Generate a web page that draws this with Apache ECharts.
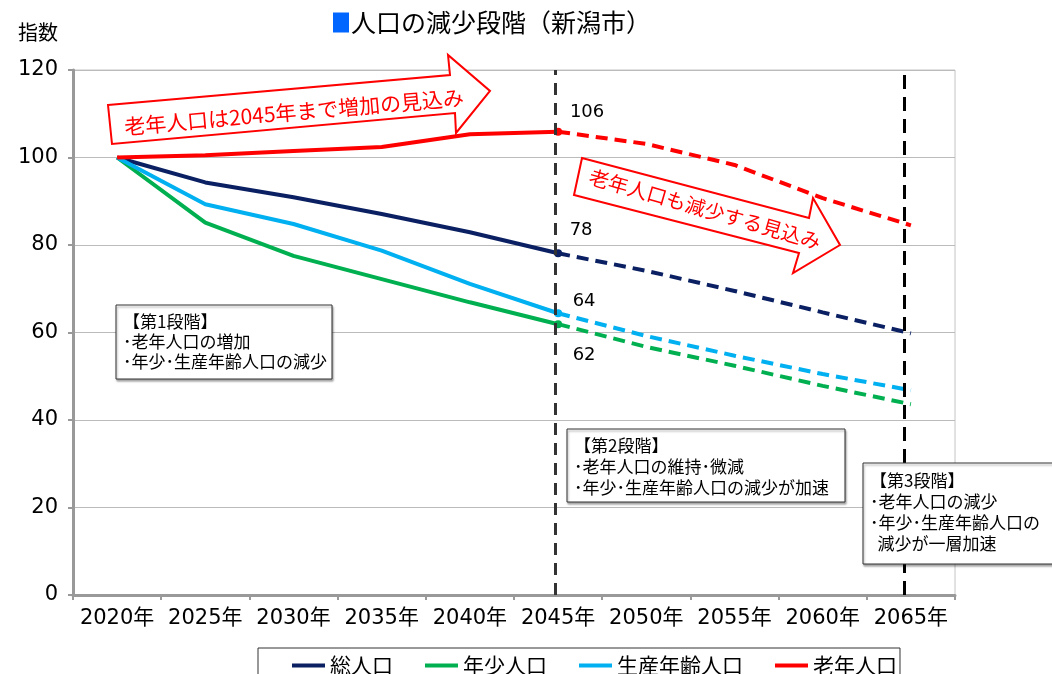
<!DOCTYPE html>
<html>
<head>
<meta charset="utf-8">
<script src="https://cdn.jsdelivr.net/npm/echarts@6/dist/echarts.min.js"></script>
<style>
html,body{margin:0;padding:0;background:#fff;}
#chart{width:1052px;height:674px;}
</style>
</head>
<body>
<div id="chart"></div>
<script>
// ---- data ----
const categories = ['2020年','2025年','2030年','2035年','2040年','2045年','2050年','2055年','2060年','2065年'];
const totalPop   = [100, 94.3, 90.9, 87.1, 82.9, 78.1, 74.1, 69.5, 64.6, 59.8];
const youthPop   = [100, 85.1, 77.5, 72.2, 66.9, 61.9, 56.7, 52.4, 47.8, 43.6];
const workingPop = [100, 89.3, 84.8, 78.7, 71.1, 64.4, 59.2, 54.7, 50.5, 46.8];
const elderlyPop = [100, 100.5, 101.5, 102.4, 105.3, 105.9, 103.1, 98.3, 90.7, 84.5];
const seriesNames = ['総人口','年少人口','生産年齢人口','老年人口'];
const yTicks = [0, 20, 40, 60, 80, 100, 120];
const splitCategory = '2045年';
// stage boundary lines, in category-index units
const stageLinePos = [4.97, 8.92];

const SPLIT = categories.indexOf(splitCategory);
const FONT_CJK = '"Noto Sans CJK JP", "Noto Sans", sans-serif';
const FONT_NUM = '"DejaVu Sans", "Noto Sans CJK JP", sans-serif';

const seriesStyles = [
  {color:'#0a2062', labelOffset:[23,-23]},
  {color:'#00b050', labelOffset:[26,31]},
  {color:'#00b0f0', labelOffset:[26,-12]},
  {color:'#ff0000', labelOffset:[29,-19]}
];
const allData = [totalPop, youthPop, workingPop, elderlyPop];

const solidSeries = allData.map((arr, k) => ({
  name: seriesNames[k],
  type: 'line',
  data: arr.map((v, i) => i <= SPLIT ? v : null),
  symbol: 'circle',
  symbolSize: (v, p) => p.dataIndex === SPLIT ? 8 : 0,
  showAllSymbol: true,
  itemStyle: {color: seriesStyles[k].color},
  lineStyle: {color: seriesStyles[k].color, width: 4},
  label: {
    show: true,
    position: 'inside',
    offset: seriesStyles[k].labelOffset,
    formatter: p => p.dataIndex === SPLIT ? String(Math.round(p.value)) : '',
    fontSize: 18, color: '#000', fontFamily: FONT_NUM
  },
  z: 3
}));
const dashedSeries = allData.map((arr, k) => ({
  name: seriesNames[k],
  type: 'line',
  data: arr.map((v, i) => i >= SPLIT ? v : null),
  symbol: 'none',
  itemStyle: {color: seriesStyles[k].color},
  lineStyle: {color: seriesStyles[k].color, width: 4, type: [12, 7]},
  z: 3
}));
const stageSeries = {
  name: 'stage',
  type: 'line',
  xAxisIndex: 1,
  data: [],
  z: 4,
  markLine: {
    silent: true,
    symbol: ['none','none'],
    label: {show: false},
    data: [
      {xAxis: stageLinePos[0], lineStyle: {color:'#333', width:3, type:[12,8]}},
      {xAxis: stageLinePos[1], lineStyle: {color:'#000', width:3, type:[14,8]}}
    ]
  }
};

function boxGraphic(x, y, w, h, lines, lh, tx, firstTop) {
  return {
    type: 'group',
    children: [
      {type:'rect', z: 20, shape:{x:x, y:y, width:w, height:h},
       style:{fill:'#fff', stroke:'#333', lineWidth:1, shadowBlur:2, shadowOffsetX:1, shadowOffsetY:2, shadowColor:'rgba(0,0,0,0.35)'}},
      {type:'text', z: 21, x: tx, y: firstTop,
       style:{text: lines.join('\n'), font: '17px ' + FONT_CJK, fill:'#000', lineHeight: lh, align:'left', verticalAlign:'top'}}
    ]
  };
}

const option = {
  animation: false,
  title: {
    text: '{sq|}{t|人口の減少段階（新潟市）}',
    left: 333, top: 10, padding: 0,
    textStyle: {
      rich: {
        sq: {width: 16, height: 20, backgroundColor: '#0066ff'},
        t: {fontSize: 25, fontWeight: 'normal', fontFamily: FONT_CJK, color: '#000', padding: [0,0,0,2]}
      }
    }
  },
  grid: {left: 73, right: 97, top: 70, bottom: 79, show: true, borderColor: '#c4c4c4', borderWidth: 1},
  legend: {
    data: seriesNames,
    left: 258, top: 648,
    icon: 'rect', itemWidth: 33, itemHeight: 4, itemGap: 32,
    padding: [7, 3, 7, 34],
    borderColor: '#333', borderWidth: 1,
    textStyle: {fontSize: 21, color: '#000', fontFamily: FONT_CJK}
  },
  xAxis: [
    {
      type: 'category', data: categories, boundaryGap: true,
      axisLine: {lineStyle: {color: '#999', width: 3}},
      axisTick: {show: true, length: 5, lineStyle: {color: '#999', width: 2}},
      axisLabel: {interval: 0, fontSize: 21, color: '#000', margin: 13, fontFamily: FONT_NUM},
      splitLine: {show: false}
    },
    {type: 'value', min: -0.5, max: categories.length - 0.5, show: false, splitLine: {show: false}}
  ],
  yAxis: {
    type: 'value', min: yTicks[0], max: yTicks[yTicks.length - 1], interval: yTicks[1] - yTicks[0],
    axisLine: {show: true, onZero: false, lineStyle: {color: '#999', width: 3}},
    axisTick: {show: true, length: 5, lineStyle: {color: '#999', width: 2}},
    splitLine: {lineStyle: {color: '#bbb', width: 1}},
    axisLabel: {fontSize: 21, color: '#000', margin: 15, fontFamily: FONT_NUM}
  },
  graphic: [
    {type: 'text', x: 18, y: 22, z: 20, style: {text: '指数', font: '20px ' + FONT_CJK, fill: '#000'}},
    {type: 'polygon', z: 15,
     shape: {points: [[108,105],[450,75],[448,55],[490,91],[456,133],[455,113],[112,144]]},
     style: {fill: '#fff', stroke: '#ff0000', lineWidth: 2}},
    {type: 'text', z: 16, x: 294, y: 112, rotation: 0.087,
     style: {text: '老年人口は2045年まで増加の見込み', font: '21px ' + FONT_CJK, fill: '#ff0000', align: 'center', verticalAlign: 'middle'}},
    {type: 'polygon', z: 15,
     shape: {points: [[582,158],[809,218],[813,198],[840,245],[793,273],[799,253],[574,195]]},
     style: {fill: '#fff', stroke: '#ff0000', lineWidth: 2}},
    {type: 'text', z: 16, x: 705, y: 209, rotation: -0.28,
     style: {text: '老年人口も減少する見込み', font: '20px ' + FONT_CJK, fill: '#ff0000', align: 'center', verticalAlign: 'middle'}},
    boxGraphic(116, 305, 216, 74, ['【第1段階】','･老年人口の増加','･年少･生産年齢人口の減少'], 20, 123, 312),
    boxGraphic(567, 429, 278, 73, ['【第2段階】','･老年人口の維持･微減','･年少･生産年齢人口の減少が加速'], 21, 574, 435),
    boxGraphic(863, 463, 200, 101, ['【第3段階】','･老年人口の減少','･年少･生産年齢人口の','  減少が一層加速'], 21, 870, 470)
  ],
  series: [...solidSeries, ...dashedSeries, stageSeries]
};

const chart = echarts.init(document.getElementById('chart'), null, {renderer: 'canvas'});
chart.setOption(option);
</script>
</body>
</html>
